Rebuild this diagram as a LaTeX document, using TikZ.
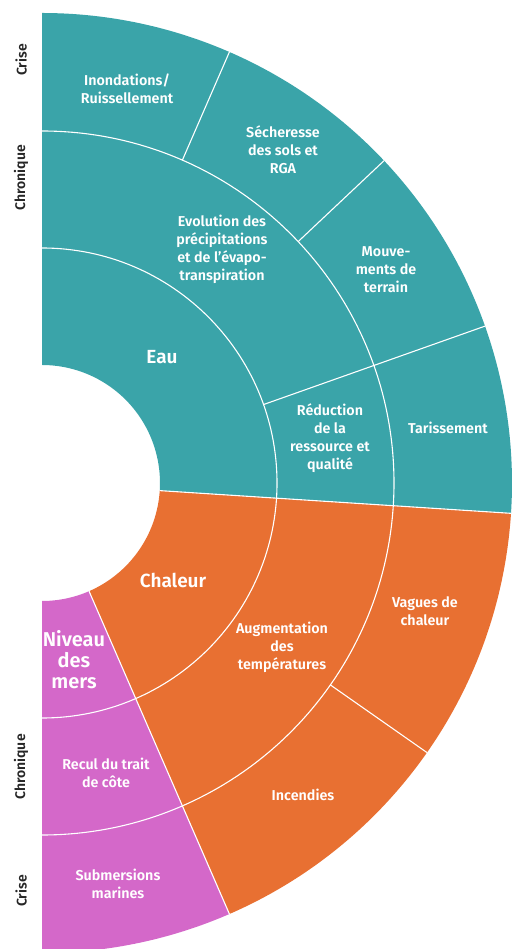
\documentclass[tikz,border=0pt]{standalone}
\usepackage{fontspec}
\setmainfont{Fira Sans}
\newfontfamily\semib{Fira Sans SemiBold}
\definecolor{teal1}{HTML}{3AA4A9}
\definecolor{orange1}{HTML}{E87032}
\definecolor{pink1}{HTML}{D468C9}
\begin{document}
\begin{tikzpicture}[x=1pt,y=1pt,
  seg/.style={white,line width=1.1pt},
  lab/.style={text=white,align=center,inner sep=0pt,font=\semib\fontsize{14.3}{18}\selectfont},
  big/.style={text=white,align=center,inner sep=0pt,font=\semib\fontsize{19}{21}\selectfont},
  side/.style={text=black!85,inner sep=0pt,rotate=90,font=\semib\fontsize{14}{16}\selectfont}]
\useasboundingbox (-42,-466) rectangle (470,483);
\def\ra{118}\def\rb{235}\def\rc{352}\def\rd{470}
% annular sectors
\newcommand\sect[5]{\fill[#1] (#2:#4) arc[start angle=#2,end angle=#3,radius=#4] -- (#3:#5) arc[start angle=#3,end angle=#2,radius=#5] -- cycle;}
\sect{teal1}{90}{-3.7}{\ra}{\rd}
\sect{orange1}{-3.7}{-66.5}{\ra}{\rd}
\sect{pink1}{-66.5}{-90}{\ra}{\rd}
% separators
\draw[seg] (90:\rb) arc[start angle=90,end angle=-90,radius=\rb];
\draw[seg] (90:\rc) arc[start angle=90,end angle=-90,radius=\rc];
\draw[seg] (-3.7:\ra) -- (-3.7:\rd);
\draw[seg] (-66.5:\ra) -- (-66.5:\rd);
\draw[seg] (19.5:\rb) -- (19.5:\rd);
\draw[seg] (66.5:\rc) -- (66.5:\rd);
\draw[seg] (43.3:\rc) -- (43.3:\rd);
\draw[seg] (-35:\rc) -- (-35:\rd);
% labels
\node[lab] (inond) at (85,394) {Inondations/\\Ruissellement};
\node[lab] (sech) at (241,333) {Sécheresse\\des sols et\\RGA};
\node[lab] (mouv) at (344,213) {Mouve-\\ments de\\terrain};
\node[lab] (tar) at (406,55) {Tarissement};
\node[lab] (red) at (288,45) {Réduction\\de la\\ressource et\\qualité};
\node[lab] (evo) at (180,234) {Evolution des\\précipitations\\et de l’évapo-\\transpiration};
\node[big] (eau) at (120,126) {Eau};
\node[big] (chal) at (131,-97) {Chaleur};
\node[big,font=\semib\fontsize{20}{21}\selectfont] (niv) at (32,-177) {Niveau\\des\\mers};
\node[lab] (aug) at (240,-164) {Augmentation\\des\\températures};
\node[lab] (vag) at (383,-128) {Vagues de\\chaleur};
\node[lab] (inc) at (261,-312) {Incendies};
\node[lab] (rec) at (64,-290) {Recul du trait\\de côte};
\node[lab] (sub) at (76,-401) {Submersions\\marines};
\node[side] (c1) at (-21,423) {Crise};
\node[side] (ch1) at (-21,305) {Chronique};
\node[side] (ch2) at (-21,-284) {Chronique};
\node[side] (c2) at (-21,-408) {Crise};
\end{tikzpicture}
\end{document}
